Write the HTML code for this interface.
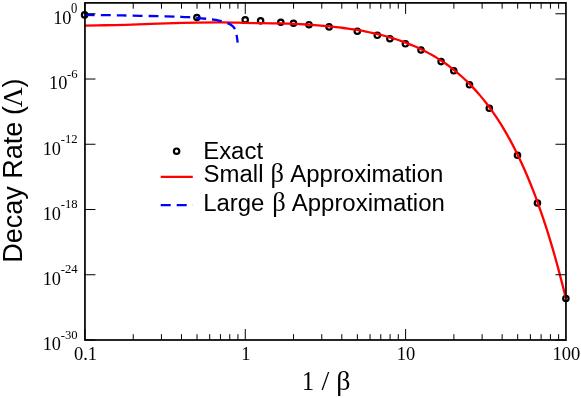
<!DOCTYPE html><html><head><meta charset="utf-8"><style>html,body{margin:0;padding:0;background:#fff}svg{display:block;will-change:transform}</style></head><body><svg width="581" height="398" viewBox="0 0 581 398">
<rect width="581" height="398" fill="#fff"/>
<circle cx="84.60" cy="14.90" r="2.7" fill="none" stroke="#000" stroke-width="2.2"/>
<circle cx="196.90" cy="17.50" r="2.7" fill="none" stroke="#000" stroke-width="2.2"/>
<circle cx="245.20" cy="19.75" r="2.7" fill="none" stroke="#000" stroke-width="2.2"/>
<circle cx="260.60" cy="20.85" r="2.7" fill="none" stroke="#000" stroke-width="2.2"/>
<circle cx="280.80" cy="22.30" r="2.7" fill="none" stroke="#000" stroke-width="2.2"/>
<circle cx="293.50" cy="23.30" r="2.7" fill="none" stroke="#000" stroke-width="2.2"/>
<circle cx="309.00" cy="24.70" r="2.7" fill="none" stroke="#000" stroke-width="2.2"/>
<circle cx="329.10" cy="26.90" r="2.7" fill="none" stroke="#000" stroke-width="2.2"/>
<circle cx="357.30" cy="31.20" r="2.7" fill="none" stroke="#000" stroke-width="2.2"/>
<circle cx="377.30" cy="35.30" r="2.7" fill="none" stroke="#000" stroke-width="2.2"/>
<circle cx="389.90" cy="38.70" r="2.7" fill="none" stroke="#000" stroke-width="2.2"/>
<circle cx="405.40" cy="43.80" r="2.7" fill="none" stroke="#000" stroke-width="2.2"/>
<circle cx="421.00" cy="50.00" r="2.7" fill="none" stroke="#000" stroke-width="2.2"/>
<circle cx="441.10" cy="61.60" r="2.7" fill="none" stroke="#000" stroke-width="2.2"/>
<circle cx="453.80" cy="70.80" r="2.7" fill="none" stroke="#000" stroke-width="2.2"/>
<circle cx="469.50" cy="84.80" r="2.7" fill="none" stroke="#000" stroke-width="2.2"/>
<circle cx="489.30" cy="108.20" r="2.7" fill="none" stroke="#000" stroke-width="2.2"/>
<circle cx="517.50" cy="155.30" r="2.7" fill="none" stroke="#000" stroke-width="2.2"/>
<circle cx="537.45" cy="203.00" r="2.7" fill="none" stroke="#000" stroke-width="2.2"/>
<circle cx="565.90" cy="298.50" r="2.7" fill="none" stroke="#000" stroke-width="2.2"/>
<path d="M84.95 25.65 C88.29 25.58 98.33 25.39 105.00 25.25 C111.67 25.11 118.33 24.99 125.00 24.80 C131.67 24.61 138.12 24.33 145.00 24.10 C151.88 23.87 157.68 23.65 166.30 23.40 C174.92 23.15 187.42 22.77 196.70 22.60 C205.98 22.43 215.12 22.38 222.00 22.40 C228.88 22.42 232.67 22.58 238.00 22.70 C243.33 22.82 248.33 23.00 254.00 23.10 C259.67 23.20 267.33 23.24 272.00 23.30 C276.67 23.36 279.33 23.38 282.00 23.44 C284.67 23.50 286.00 23.57 288.00 23.64 C290.00 23.72 292.00 23.80 294.00 23.88 C296.00 23.97 298.00 24.06 300.00 24.17 C302.00 24.27 304.00 24.38 306.00 24.50 C308.00 24.62 310.00 24.75 312.00 24.88 C314.00 25.02 316.00 25.17 318.00 25.32 C320.00 25.48 322.00 25.65 324.00 25.82 C326.00 26.00 328.00 26.19 330.00 26.39 C332.00 26.60 334.00 26.81 336.00 27.04 C338.00 27.26 340.00 27.50 342.00 27.76 C344.00 28.01 346.00 28.28 348.00 28.57 C350.00 28.85 352.00 29.15 354.00 29.47 C356.00 29.79 358.00 30.12 360.00 30.48 C362.00 30.83 364.00 31.20 366.00 31.60 C368.00 31.99 370.00 32.40 372.00 32.84 C374.00 33.28 376.00 33.73 378.00 34.22 C380.00 34.70 382.00 35.20 384.00 35.74 C386.00 36.27 388.00 36.83 390.00 37.42 C392.00 38.01 394.00 38.62 396.00 39.27 C398.00 39.92 400.00 40.60 402.00 41.32 C404.00 42.03 406.00 42.78 408.00 43.57 C410.00 44.35 412.00 45.17 414.00 46.04 C416.00 46.90 418.00 47.81 420.00 48.76 C422.00 49.71 424.00 50.70 426.00 51.74 C428.00 52.78 430.00 53.87 432.00 55.02 C434.00 56.16 436.00 57.35 438.00 58.61 C440.00 59.86 442.00 61.17 444.00 62.55 C446.00 63.92 448.00 65.35 450.00 66.86 C452.00 68.37 454.00 69.93 456.00 71.58 C458.00 73.23 460.00 74.95 462.00 76.75 C464.00 78.56 466.00 80.44 468.00 82.41 C470.00 84.39 472.00 86.44 474.00 88.60 C476.00 90.76 478.00 93.01 480.00 95.37 C482.00 97.73 484.00 100.19 486.00 102.77 C488.00 105.35 490.00 108.04 492.00 110.86 C494.00 113.68 496.00 116.61 498.00 119.69 C500.00 122.77 502.00 125.98 504.00 129.35 C506.00 132.71 508.00 136.22 510.00 139.89 C512.00 143.57 514.00 147.39 516.00 151.41 C518.00 155.42 520.00 159.60 522.00 163.98 C524.00 168.37 526.00 172.92 528.00 177.71 C530.00 182.49 532.00 187.47 534.00 192.69 C536.00 197.92 538.00 203.35 540.00 209.05 C542.00 214.75 544.00 220.68 546.00 226.90 C548.00 233.12 550.00 239.59 552.00 246.38 C554.00 253.16 556.00 260.22 558.00 267.63 C560.00 275.04 562.70 285.70 564.00 290.82 C565.30 295.93 565.50 297.05 565.80 298.30" stroke="#ff0000" stroke-width="2.3" fill="none"/>
<path d="M84.95 14.85 C91.16 14.94 108.64 15.14 122.20 15.40 C135.76 15.66 156.48 16.17 166.30 16.40 C176.12 16.63 177.12 16.65 181.10 16.80 C185.08 16.95 187.55 17.13 190.20 17.30 C192.85 17.47 194.27 17.55 197.00 17.80 C199.73 18.05 204.07 18.52 206.60 18.80 C209.13 19.08 210.42 19.27 212.20 19.50 C213.98 19.73 215.58 19.90 217.30 20.20 C219.02 20.50 220.68 20.77 222.50 21.30 C224.32 21.83 226.52 22.60 228.20 23.40 C229.88 24.20 231.40 25.00 232.60 26.10 C233.80 27.20 234.72 28.42 235.40 30.00 C236.08 31.58 236.32 33.50 236.70 35.60 C237.08 37.70 237.53 41.43 237.70 42.60" stroke="#0000ff" stroke-width="2.3" fill="none" stroke-dasharray="9.9 6"/>
<path d="M84.95 340.00 v-11.00 M84.95 2.90 v11.00 M133.22 340.00 v-5.80 M133.22 2.90 v5.80 M161.45 340.00 v-5.80 M161.45 2.90 v5.80 M181.48 340.00 v-5.80 M181.48 2.90 v5.80 M197.02 340.00 v-5.80 M197.02 2.90 v5.80 M209.71 340.00 v-5.80 M209.71 2.90 v5.80 M220.45 340.00 v-5.80 M220.45 2.90 v5.80 M229.75 340.00 v-5.80 M229.75 2.90 v5.80 M237.95 340.00 v-5.80 M237.95 2.90 v5.80 M245.28 340.00 v-11.00 M245.28 2.90 v11.00 M293.55 340.00 v-5.80 M293.55 2.90 v5.80 M321.78 340.00 v-5.80 M321.78 2.90 v5.80 M341.81 340.00 v-5.80 M341.81 2.90 v5.80 M357.35 340.00 v-5.80 M357.35 2.90 v5.80 M370.05 340.00 v-5.80 M370.05 2.90 v5.80 M380.78 340.00 v-5.80 M380.78 2.90 v5.80 M390.08 340.00 v-5.80 M390.08 2.90 v5.80 M398.28 340.00 v-5.80 M398.28 2.90 v5.80 M405.62 340.00 v-11.00 M405.62 2.90 v11.00 M453.88 340.00 v-5.80 M453.88 2.90 v5.80 M482.12 340.00 v-5.80 M482.12 2.90 v5.80 M502.15 340.00 v-5.80 M502.15 2.90 v5.80 M517.68 340.00 v-5.80 M517.68 2.90 v5.80 M530.38 340.00 v-5.80 M530.38 2.90 v5.80 M541.11 340.00 v-5.80 M541.11 2.90 v5.80 M550.41 340.00 v-5.80 M550.41 2.90 v5.80 M558.61 340.00 v-5.80 M558.61 2.90 v5.80 M84.95 13.77 h10.5 M565.95 13.77 h-10.5 M84.95 79.02 h10.5 M565.95 79.02 h-10.5 M84.95 144.26 h10.5 M565.95 144.26 h-10.5 M84.95 209.51 h10.5 M565.95 209.51 h-10.5 M84.95 274.75 h10.5 M565.95 274.75 h-10.5 M84.95 340.00 h10.5 M565.95 340.00 h-10.5" stroke="#000" stroke-width="1" fill="none"/>
<rect x="84.95" y="2.90" width="481.00" height="337.10" fill="none" stroke="#000" stroke-width="1.7"/>
<text transform="translate(85.45 360.20) scale(1 1)" font-family="'Liberation Serif', serif" font-size="18.5" text-anchor="middle">0.1</text>
<text transform="translate(245.78 360.20) scale(1 1)" font-family="'Liberation Serif', serif" font-size="18.5" text-anchor="middle">1</text>
<text transform="translate(406.12 360.20) scale(1 1)" font-family="'Liberation Serif', serif" font-size="18.5" text-anchor="middle">10</text>
<text transform="translate(566.45 360.20) scale(1 1)" font-family="'Liberation Serif', serif" font-size="18.5" text-anchor="middle">100</text>
<text transform="translate(77.30 13.00) scale(0.85 1)" font-family="'Liberation Serif', serif" font-size="14.8" text-anchor="end">0</text>
<text transform="translate(71.45 24.00) scale(0.99 1)" font-family="'Liberation Serif', serif" font-size="18.5" text-anchor="end">10</text>
<text transform="translate(77.60 78.00) scale(0.94 1)" font-family="'Liberation Serif', serif" font-size="13.5" text-anchor="end">-6</text>
<text transform="translate(67.33 89.00) scale(0.99 1)" font-family="'Liberation Serif', serif" font-size="18.5" text-anchor="end">10</text>
<text transform="translate(77.60 143.00) scale(0.94 1)" font-family="'Liberation Serif', serif" font-size="13.5" text-anchor="end">-12</text>
<text transform="translate(60.98 155.00) scale(0.99 1)" font-family="'Liberation Serif', serif" font-size="18.5" text-anchor="end">10</text>
<text transform="translate(77.60 208.00) scale(0.94 1)" font-family="'Liberation Serif', serif" font-size="13.5" text-anchor="end">-18</text>
<text transform="translate(60.98 220.00) scale(0.99 1)" font-family="'Liberation Serif', serif" font-size="18.5" text-anchor="end">10</text>
<text transform="translate(77.60 273.00) scale(0.94 1)" font-family="'Liberation Serif', serif" font-size="13.5" text-anchor="end">-24</text>
<text transform="translate(60.98 285.00) scale(0.99 1)" font-family="'Liberation Serif', serif" font-size="18.5" text-anchor="end">10</text>
<text transform="translate(77.60 339.00) scale(0.94 1)" font-family="'Liberation Serif', serif" font-size="13.5" text-anchor="end">-30</text>
<text transform="translate(60.98 350.00) scale(0.99 1)" font-family="'Liberation Serif', serif" font-size="18.5" text-anchor="end">10</text>
<text transform="translate(307.90 389.60) scale(0.86 1)" font-family="'Liberation Serif', serif" font-size="28" text-anchor="middle">1</text><text transform="translate(325.30 389.60) scale(1 1)" font-family="'Liberation Serif', serif" font-size="28" text-anchor="middle">/</text><text transform="translate(343.40 389.60) scale(1 1)" font-family="'Liberation Serif', serif" font-size="28" text-anchor="middle">β</text>
<text transform="translate(21.7 262.7) rotate(-90)" font-family="'Liberation Sans', sans-serif" font-size="27">Decay Rate <tspan dx="-0.8">(</tspan><tspan dx="-1.35" font-size="27.6" font-family="'Liberation Serif', serif">Λ</tspan><tspan dx="-0.2">)</tspan></text>
<circle cx="176.6" cy="151.2" r="2.7" fill="none" stroke="#000" stroke-width="2.2"/>
<path d="M160.7 176.85 H192.8" stroke="#ff0000" stroke-width="2.3"/>
<path d="M160.7 205.15 H192.8" stroke="#0000ff" stroke-width="2.3" stroke-dasharray="10 6"/>
<g font-family="'Liberation Sans', sans-serif" font-size="23.95" fill="#000">
<text x="203.2" y="158.8">Exact</text>
<text x="203.6" y="182.2">Small</text><text x="270.5" y="182.2" font-size="26.5" font-family="'Liberation Serif', serif">β</text><text x="290.3" y="182.2" font-size="23.95">Approximation</text>
<text x="203.2" y="210.9">Large</text><text x="272.3" y="210.9" font-size="26.5" font-family="'Liberation Serif', serif">β</text><text x="291.8" y="210.9" font-size="23.95">Approximation</text>
</g>
</svg></body></html>
